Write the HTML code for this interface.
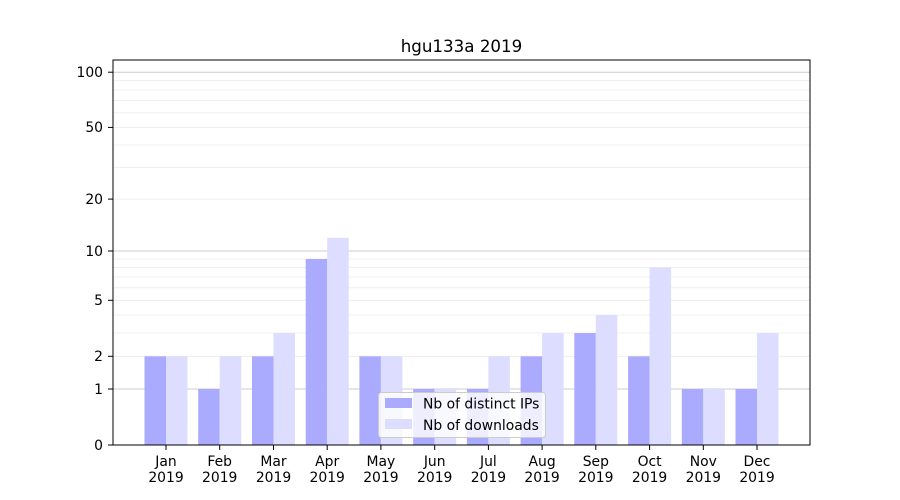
<!DOCTYPE html>
<html><head><meta charset="utf-8"><style>body{margin:0;background:#fff}svg{display:block}text{font-family:"DejaVu Sans","Liberation Sans",sans-serif;fill:#000}</style></head><body>
<svg width="900" height="500" viewBox="0 0 900 500">
<rect width="900" height="500" fill="#fff"/>
<g stroke="#ebebeb" stroke-width="0.8">
<line x1="113" x2="810" y1="333" y2="333"/><line x1="113" x2="810" y1="315" y2="315"/>
<line x1="113" x2="810" y1="287.8" y2="287.8"/><line x1="113" x2="810" y1="277" y2="277"/>
<line x1="113" x2="810" y1="267.5" y2="267.5"/><line x1="113" x2="810" y1="259" y2="259"/>
<line x1="113" x2="810" y1="167.6" y2="167.6"/><line x1="113" x2="810" y1="145" y2="145"/>
<line x1="113" x2="810" y1="112.9" y2="112.9"/><line x1="113" x2="810" y1="100.6" y2="100.6"/>
<line x1="113" x2="810" y1="90" y2="90"/><line x1="113" x2="810" y1="80.6" y2="80.6"/>
<line x1="113" x2="810" y1="356.3" y2="356.3"/><line x1="113" x2="810" y1="300.3" y2="300.3"/>
<line x1="113" x2="810" y1="199.1" y2="199.1"/><line x1="113" x2="810" y1="127.4" y2="127.4"/>
</g>
<g stroke="#cccccc" stroke-width="1">
<line x1="113" x2="810" y1="389" y2="389"/><line x1="113" x2="810" y1="251" y2="251"/><line x1="113" x2="810" y1="72.2" y2="72.2"/>
</g>
<g fill="#aaaaff">
<rect x="144.5" y="356.3" width="21.5" height="88.7"/>
<rect x="198.2" y="389" width="21.5" height="56"/>
<rect x="252" y="356.3" width="21.5" height="88.7"/>
<rect x="305.7" y="259" width="21.5" height="186"/>
<rect x="359.4" y="356.3" width="21.5" height="88.7"/>
<rect x="413.2" y="389" width="21.5" height="56"/>
<rect x="466.9" y="389" width="21.5" height="56"/>
<rect x="520.6" y="356.3" width="21.5" height="88.7"/>
<rect x="574.3" y="333" width="21.5" height="112"/>
<rect x="628.1" y="356.3" width="21.5" height="88.7"/>
<rect x="681.8" y="389" width="21.5" height="56"/>
<rect x="735.5" y="389" width="21.5" height="56"/>
</g>
<g fill="#ddddff">
<rect x="166" y="356.3" width="21.5" height="88.7"/>
<rect x="219.7" y="356.3" width="21.5" height="88.7"/>
<rect x="273.5" y="333" width="21.5" height="112"/>
<rect x="327.2" y="237.8" width="21.5" height="207.2"/>
<rect x="380.9" y="356.3" width="21.5" height="88.7"/>
<rect x="434.7" y="389" width="21.5" height="56"/>
<rect x="488.4" y="356.3" width="21.5" height="88.7"/>
<rect x="542.1" y="333" width="21.5" height="112"/>
<rect x="595.8" y="315" width="21.5" height="130"/>
<rect x="649.6" y="267.5" width="21.5" height="177.5"/>
<rect x="703.3" y="389" width="21.5" height="56"/>
<rect x="757" y="333" width="21.5" height="112"/>
</g>
<rect x="113" y="60" width="697" height="385" fill="none" stroke="#000" stroke-width="1"/>
<g stroke="#000">
<line x1="108" x2="113" y1="445" y2="445"/><line x1="108" x2="113" y1="389" y2="389"/>
<line x1="108" x2="113" y1="356.3" y2="356.3"/><line x1="108" x2="113" y1="300.3" y2="300.3"/>
<line x1="108" x2="113" y1="251" y2="251"/><line x1="108" x2="113" y1="199.1" y2="199.1"/>
<line x1="108" x2="113" y1="127.4" y2="127.4"/><line x1="108" x2="113" y1="72.2" y2="72.2"/>
</g>
<g font-size="13.9" text-anchor="end">
<text x="103" y="450">0</text><text x="103" y="394">1</text><text x="103" y="361">2</text>
<text x="103" y="305">5</text><text x="103" y="256">10</text><text x="103" y="204">20</text>
<text x="103" y="132">50</text><text x="103" y="77">100</text>
</g>
<g stroke="#000">
<line x1="166" x2="166" y1="445" y2="450"/><line x1="219.7" x2="219.7" y1="445" y2="450"/>
<line x1="273.5" x2="273.5" y1="445" y2="450"/><line x1="327.2" x2="327.2" y1="445" y2="450"/>
<line x1="380.9" x2="380.9" y1="445" y2="450"/><line x1="434.7" x2="434.7" y1="445" y2="450"/>
<line x1="488.4" x2="488.4" y1="445" y2="450"/><line x1="542.1" x2="542.1" y1="445" y2="450"/>
<line x1="595.8" x2="595.8" y1="445" y2="450"/><line x1="649.6" x2="649.6" y1="445" y2="450"/>
<line x1="703.3" x2="703.3" y1="445" y2="450"/><line x1="757" x2="757" y1="445" y2="450"/>
</g>
<g font-size="13.9" text-anchor="middle">
<text x="166" y="466">Jan</text><text x="166" y="482">2019</text>
<text x="219.7" y="466">Feb</text><text x="219.7" y="482">2019</text>
<text x="273.5" y="466">Mar</text><text x="273.5" y="482">2019</text>
<text x="327.2" y="466">Apr</text><text x="327.2" y="482">2019</text>
<text x="380.9" y="466">May</text><text x="380.9" y="482">2019</text>
<text x="434.7" y="466">Jun</text><text x="434.7" y="482">2019</text>
<text x="488.4" y="466">Jul</text><text x="488.4" y="482">2019</text>
<text x="542.1" y="466">Aug</text><text x="542.1" y="482">2019</text>
<text x="595.8" y="466">Sep</text><text x="595.8" y="482">2019</text>
<text x="649.6" y="466">Oct</text><text x="649.6" y="482">2019</text>
<text x="703.3" y="466">Nov</text><text x="703.3" y="482">2019</text>
<text x="757" y="466">Dec</text><text x="757" y="482">2019</text>
</g>
<text x="461.5" y="52" font-size="16.7" text-anchor="middle">hgu133a 2019</text>
<rect x="378.5" y="392.5" width="167" height="45" rx="3" fill="#fff" fill-opacity="0.8" stroke="#cccccc"/>
<rect x="385" y="398" width="27" height="10" fill="#aaaaff"/>
<rect x="385" y="419" width="27" height="10" fill="#ddddff"/>
<text x="423" y="408.5" font-size="13.9">Nb of distinct IPs</text>
<text x="423" y="430" font-size="13.9">Nb of downloads</text>
</svg>
</body></html>
